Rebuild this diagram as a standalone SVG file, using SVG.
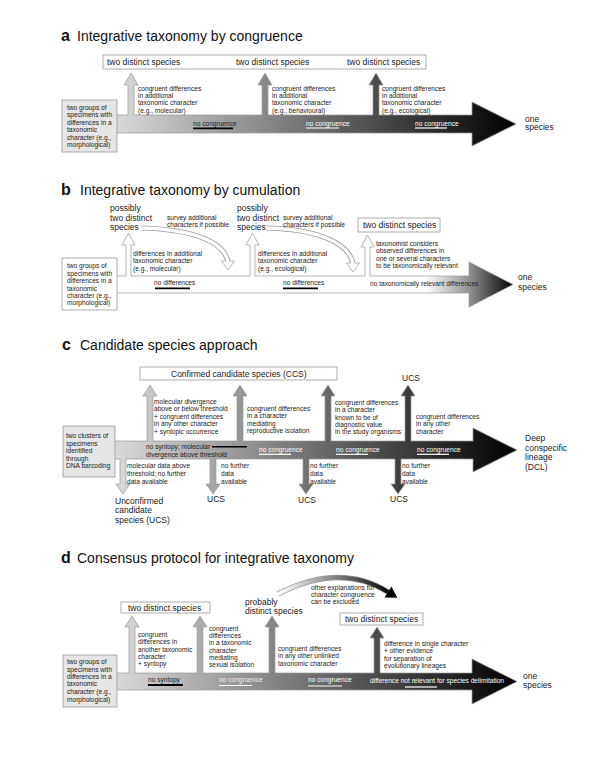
<svg xmlns="http://www.w3.org/2000/svg" width="600" height="771" viewBox="0 0 600 771">
<style>
text{font-family:"Liberation Sans",Arial,sans-serif;fill:#222}
.s{font-size:6.6px}
.m{font-size:8.5px}
.t{font-size:14px;fill:#111}
.tb{font-size:16px;font-weight:bold;fill:#111}
.w{fill:#fff}
.lt{fill:#eee}
.box{fill:#fff;stroke:#999;stroke-width:0.8}
.gbox{fill:#e6e6e6;stroke:#999;stroke-width:0.8}
.arr{stroke:#999;stroke-width:0.7}
.ub{stroke:#000;stroke-width:1.8}
.uw{stroke:#fff;stroke-width:1.2}
</style>
<defs>
<linearGradient id="ga" gradientUnits="userSpaceOnUse" x1="100" y1="0" x2="516" y2="0"><stop offset="0" stop-color="#e2e2e2"/><stop offset="1" stop-color="#000"/></linearGradient>
<linearGradient id="gb" gradientUnits="userSpaceOnUse" x1="100" y1="0" x2="513" y2="0"><stop offset="0" stop-color="#fff"/><stop offset="0.79" stop-color="#fff"/><stop offset="0.9" stop-color="#8a8a8a"/><stop offset="1" stop-color="#000"/></linearGradient>
<linearGradient id="gc" gradientUnits="userSpaceOnUse" x1="100" y1="0" x2="517" y2="0"><stop offset="0" stop-color="#e2e2e2"/><stop offset="1" stop-color="#000"/></linearGradient>
<linearGradient id="gd" gradientUnits="userSpaceOnUse" x1="100" y1="0" x2="517" y2="0"><stop offset="0" stop-color="#e2e2e2"/><stop offset="1" stop-color="#000"/></linearGradient>
<linearGradient id="garc" gradientUnits="userSpaceOnUse" x1="280" y1="0" x2="392" y2="0"><stop offset="0" stop-color="#fff"/><stop offset="1" stop-color="#000"/></linearGradient>
</defs>

<!-- Panel a -->
<g id="title-a"><text x="61" y="41" class="tb">a</text><text x="77" y="41" class="t">Integrative taxonomy by congruence</text></g>
<g id="connectors-a">
<path class="arr" fill="url(#ga)" d="M95,115 H128 V85 H124 L131,73 L138,85 H134 V115 H262 V85 H258 L265,73 L272,85 H268 V115 H373 V85 H369 L376,73 L383,85 H379 V115 H472 V102 L516,124 L472,146 V133 H95 Z"/>
<line class="ub" x1="193" y1="128.3" x2="233" y2="128.3"/>
<line class="uw" x1="306" y1="128" x2="339" y2="128"/>
<line class="uw" x1="415" y1="128" x2="447" y2="128"/>
</g>
<g id="a-outcome"><rect class="box" x="103" y="55" width="323" height="14"/>
<text x="107" y="65" class="m">two distinct species</text><text x="236" y="65" class="m">two distinct species</text><text x="347" y="65" class="m">two distinct species</text></g>
<g id="a-start"><rect class="gbox" x="62" y="100" width="55" height="52"/>
<text class="s" x="67" y="110">two groups of</text><text class="s" x="67" y="117.4">specimens with</text><text class="s" x="67" y="124.8">differences in a</text><text class="s" x="67" y="132.2">taxonomic</text><text class="s" x="67" y="139.6">character (e.g.,</text><text class="s" x="67" y="147">morphological)</text></g>
<g id="a-l1"><text class="s" x="138" y="90.6">congruent differences</text><text class="s" x="138" y="97.9">in additional</text><text class="s" x="138" y="105.2">taxonomic character</text><text class="s" x="138" y="112.5">(e.g., molecular)</text></g>
<g id="a-l2"><text class="s" x="272" y="90.6">congruent differences</text><text class="s" x="272" y="97.9">in additional</text><text class="s" x="272" y="105.2">taxonomic character</text><text class="s" x="272" y="112.5">(e.g., behavioural)</text></g>
<g id="a-l3"><text class="s" x="382" y="90.6">congruent differences</text><text class="s" x="382" y="97.9">in additional</text><text class="s" x="382" y="105.2">taxonomic character</text><text class="s" x="382" y="112.5">(e.g., ecological)</text></g>
<g id="a-nc"><text class="s" x="193" y="126">no congruence</text><text class="s w" x="306" y="125.6">no congruence</text><text class="s w" x="415" y="125.6">no congruence</text></g>
<g id="a-end"><text class="m" x="525" y="121.7">one</text><text class="m" x="525" y="130.3">species</text></g>

<!-- Panel b -->
<g id="title-b"><text x="61" y="194.5" class="tb">b</text><text x="80" y="194.5" class="t">Integrative taxonomy by cumulation</text></g>
<g id="connectors-b">
<path class="arr" fill="url(#gb)" d="M95,276 H126 V245 H122 L128.5,233 L135,245 H131 V276 H250 V245 H246 L252.5,233 L259,245 H255 V276 H365 V247 H361 L367.5,235 L374,247 H370 V276 H469 V262 L513,284.5 L469,307 V293 H95 Z"/>
<path d="M141,228 C188,229 224,240 228,262" fill="none" stroke="#999" stroke-width="5"/>
<polygon points="221.5,261 234.5,261 228,270" fill="#fff" stroke="#999" stroke-width="0.7"/>
<path d="M141,228 C188,229 224,240 228,262" fill="none" stroke="#fff" stroke-width="3.4"/>
<path d="M266,228 C313,229 349,241 353,264" fill="none" stroke="#999" stroke-width="5"/>
<polygon points="346.5,263 359.5,263 353,272" fill="#fff" stroke="#999" stroke-width="0.7"/>
<path d="M266,228 C313,229 349,241 353,264" fill="none" stroke="#fff" stroke-width="3.4"/>
<line class="ub" x1="155" y1="288.3" x2="190" y2="288.3"/>
<line class="ub" x1="283" y1="288.3" x2="318" y2="288.3"/>
</g>
<g id="b-start"><rect class="box" x="62" y="258" width="55" height="52"/>
<text class="s" x="67" y="268.3">two groups of</text><text class="s" x="67" y="275.7">specimens with</text><text class="s" x="67" y="283.1">differences in a</text><text class="s" x="67" y="290.5">taxonomic</text><text class="s" x="67" y="297.9">character (e.g.,</text><text class="s" x="67" y="305.3">morphological)</text></g>
<g id="b-p1"><text class="m" x="110" y="211">possibly</text><text class="m" x="110" y="220.7">two distinct</text><text class="m" x="110" y="230.4">species</text></g>
<g id="b-p2"><text class="m" x="237" y="211">possibly</text><text class="m" x="237" y="220.7">two distinct</text><text class="m" x="237" y="230.4">species</text></g>
<g id="b-s1"><text class="s" x="167" y="219.6">survey additional</text><text class="s" x="167" y="226.6">characters if possible</text></g>
<g id="b-s2"><text class="s" x="283" y="219.6">survey additional</text><text class="s" x="283" y="226.6">characters if possible</text></g>
<g id="b-l1"><text class="s" x="133" y="255.6">differences in additional</text><text class="s" x="133" y="263.1">taxonomic character</text><text class="s" x="133" y="270.6">(e.g., molecular)</text></g>
<g id="b-l2"><text class="s" x="258" y="255.6">differences in additional</text><text class="s" x="258" y="263.1">taxonomic character</text><text class="s" x="258" y="270.6">(e.g., ecological)</text></g>
<g id="b-outcome"><rect class="box" x="358" y="218" width="82" height="14"/><text class="m" x="363" y="228.3">two distinct species</text></g>
<g id="b-l3"><text class="s" x="376" y="245.6">taxonomist considers</text><text class="s" x="376" y="253">observed differences in</text><text class="s" x="376" y="260.5">one or several characters</text><text class="s" x="376" y="268">to be taxonomically relevant</text></g>
<g id="b-nd"><text class="s" x="154" y="285.3">no differences</text><text class="s" x="283" y="285.3">no differences</text><text class="s" x="370" y="285.6">no taxonomically relevant differences</text></g>
<g id="b-end"><text class="m" x="518" y="280">one</text><text class="m" x="518" y="289.6">species</text></g>

<!-- Panel c -->
<g id="title-c"><text x="62" y="350" class="tb">c</text><text x="80" y="350" class="t">Candidate species approach</text></g>
<g id="connectors-c">
<path class="arr" fill="url(#gc)" d="M95,441 H147 V396 H143 L150,385 L157,396 H153 V441 H237 V396 H233 L240,385 L247,396 H243 V441 H325 V396 H321 L328,385 L335,396 H331 V441 H405 V396 H401 L408,385 L415,396 H411 V441 H473 V428 L517,450 L473,472 V459 H401 V484 H405 L398,494 L391,484 H395 V459 H309 V484 H313 L306,494 L299,484 H303 V459 H216 V484 H220 L213,494 L206,484 H210 V459 H126 V484 H130 L123,494 L116,484 H120 V459 H95 Z"/>
<line x1="212" y1="446.8" x2="247" y2="446.8" stroke="#000" stroke-width="1.6"/>
<line class="uw" x1="259" y1="454.3" x2="291" y2="454.3"/>
<line class="uw" x1="336" y1="454.3" x2="368" y2="454.3"/>
<line class="uw" x1="417" y1="454.3" x2="449" y2="454.3"/>
</g>
<g id="c-ccs"><rect class="box" x="140" y="367" width="197" height="13"/><text class="m" x="171" y="377">Confirmed candidate species (CCS)</text></g>
<g id="c-ucs-top"><text class="m" x="402" y="380.5">UCS</text></g>
<g id="c-start"><rect class="gbox" x="63" y="426" width="52" height="51"/>
<text class="s" x="66" y="438.3">two clusters of</text><text class="s" x="66" y="445.7">specimens</text><text class="s" x="66" y="453.1"> identified</text><text class="s" x="66" y="460.5">through</text><text class="s" x="66" y="467.9">DNA barcoding</text></g>
<g id="c-l1"><text class="s" x="154" y="404">molecular divergence</text><text class="s" x="154" y="411.4">above or below threshold</text><text class="s" x="154" y="418.8">+ congruent differences</text><text class="s" x="154" y="426.2">in any other character</text><text class="s" x="154" y="433.6">+ syntopic occurrence</text></g>
<g id="c-l2"><text class="s" x="247" y="410.6">congruent differences</text><text class="s" x="247" y="418.1">in a character</text><text class="s" x="247" y="425.6">mediating</text><text class="s" x="247" y="433.1">reproductive isolation</text></g>
<g id="c-l3"><text class="s" x="335" y="405">congruent differences</text><text class="s" x="335" y="412.3">in a character</text><text class="s" x="335" y="419.6">known to be of</text><text class="s" x="335" y="427">diagnostic value</text><text class="s" x="335" y="434.3">in the study organisms</text></g>
<g id="c-l4"><text class="s" x="416" y="419">congruent differences</text><text class="s" x="416" y="426.3">in any other</text><text class="s" x="416" y="433.6">character</text></g>
<g id="c-body"><text class="s" x="146" y="449">no syntopy; molecular</text><text class="s" x="146" y="457.3">divergence above threshold</text>
<text class="s w" x="259" y="451.5">no congruence</text><text class="s w" x="336" y="451.5">no congruence</text><text class="s w" x="417" y="451.5">no congruence</text></g>
<g id="c-d1"><text class="s" x="127" y="468.3">molecular data above</text><text class="s" x="127" y="476.3">threshold; no further</text><text class="s" x="127" y="484.3">data available</text></g>
<g id="c-d2"><text class="s" x="221" y="468.3">no further</text><text class="s" x="221" y="476.3">data</text><text class="s" x="221" y="484.3">available</text></g>
<g id="c-d3"><text class="s" x="310" y="468.3">no further</text><text class="s" x="310" y="476.3">data</text><text class="s" x="310" y="484.3">available</text></g>
<g id="c-d4"><text class="s" x="402" y="468.3">no further</text><text class="s" x="402" y="476.3">data</text><text class="s" x="402" y="484.3">available</text></g>
<g id="c-ucs"><text class="m" x="115" y="503.5">Unconfirmed</text><text class="m" x="115" y="513">candidate</text><text class="m" x="115" y="522.5">species (UCS)</text>
<text class="m" x="207" y="502">UCS</text><text class="m" x="298" y="502.5">UCS</text><text class="m" x="390" y="502">UCS</text></g>
<g id="c-end"><text class="m" x="525" y="441.3">Deep</text><text class="m" x="525" y="450.7">conspecific</text><text class="m" x="525" y="460.3">lineage</text><text class="m" x="525" y="469.7">(DCL)</text></g>

<!-- Panel d -->
<g id="title-d"><text x="61" y="563" class="tb">d</text><text x="77" y="563" class="t">Consensus protocol for integrative taxonomy</text></g>
<g id="connectors-d">
<path class="arr" fill="url(#gd)" d="M95,673 H129 V627 H125 L132,616 L139,627 H135 V673 H197 V627 H193 L200,616 L207,627 H203 V673 H269 V627 H265 L272,616 L279,627 H275 V673 H374 V638 H370 L377,627 L384,638 H380 V673 H472 V659 L517,681.5 L472,704 V690 H95 Z"/>
<path d="M278,594 Q340,562 388,592" fill="none" stroke="#999" stroke-width="5.4"/>
<path d="M278,594 Q340,562 388,592" fill="none" stroke="url(#garc)" stroke-width="4"/>
<polygon points="384.6,597.5 391.4,586.5 397.3,597.8" fill="#000"/>
<line class="ub" x1="148" y1="685" x2="183" y2="685"/>
<line class="uw" x1="219" y1="685.5" x2="252" y2="685.5"/>
<line class="uw" x1="308" y1="686" x2="342" y2="686"/>
<line class="uw" x1="405" y1="687" x2="437" y2="687"/>
</g>
<g id="d-o1"><rect class="box" x="121" y="602" width="89" height="11"/><text class="m" x="128" y="610.5">two distinct species</text></g>
<g id="d-prob"><text class="m" x="245" y="605">probably</text><text class="m" x="245" y="614">distinct species</text></g>
<g id="d-arc-label"><text class="s" x="311" y="590">other explanations for</text><text class="s" x="311" y="597">character congruence</text><text class="s" x="311" y="604">can be excluded</text></g>
<g id="d-o2"><rect class="box" x="340" y="613" width="83" height="12"/><text class="m" x="345" y="622">two distinct species</text></g>
<g id="d-start"><rect class="gbox" x="63" y="655" width="54" height="52"/>
<text class="s" x="67" y="664">two groups of</text><text class="s" x="67" y="671.5">specimens with</text><text class="s" x="67" y="679">differences in a</text><text class="s" x="67" y="686.4">taxonomic</text><text class="s" x="67" y="694">character (e.g.,</text><text class="s" x="67" y="701.5">morphological)</text></g>
<g id="d-l1"><text class="s" x="138" y="636.6">congruent</text><text class="s" x="138" y="644">differences in</text><text class="s" x="138" y="651.5">another taxonomic</text><text class="s" x="138" y="659"> character</text><text class="s" x="138" y="666.3">+ syntopy</text></g>
<g id="d-l2"><text class="s" x="209" y="630.6">congruent</text><text class="s" x="209" y="637.9">differences</text><text class="s" x="209" y="645.2">in a taxonomic</text><text class="s" x="209" y="652.5">character</text><text class="s" x="209" y="659.8">mediating</text><text class="s" x="209" y="667.1">sexual isolation</text></g>
<g id="d-l3"><text class="s" x="278" y="650.6">congruent differences</text><text class="s" x="278" y="658">in any other unlinked</text><text class="s" x="278" y="665.5">taxonomic character</text></g>
<g id="d-l4"><text class="s" x="384" y="645.6">difference in single character</text><text class="s" x="384" y="653">+ other evidence</text><text class="s" x="384" y="660.5">for separation of</text><text class="s" x="384" y="668">evolutionary lineages</text></g>
<g id="d-body"><text class="s" x="148" y="682.3">no syntopy</text><text class="s lt" x="219" y="682.3">no congruence</text><text class="s w" x="308" y="682.3">no congruence</text><text class="s w" x="370" y="683">difference not relevant for species delimitation</text></g>
<g id="d-end"><text class="m" x="523" y="678.5">one</text><text class="m" x="523" y="688">species</text></g>
</svg>
